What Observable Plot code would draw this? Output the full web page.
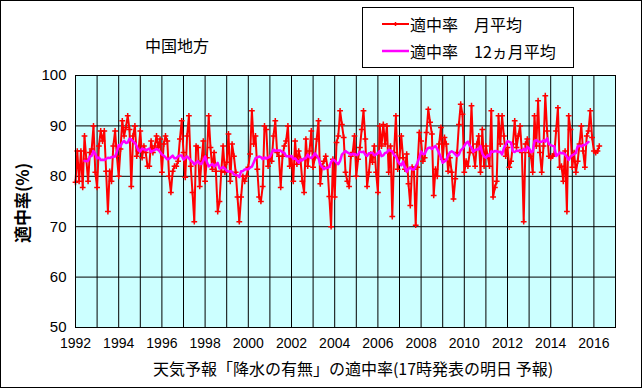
<!DOCTYPE html>
<html><head><meta charset="utf-8">
<script src="https://cdn.jsdelivr.net/npm/d3@7"></script>
<script src="https://cdn.jsdelivr.net/npm/@observablehq/plot@0.6"></script>
<style>
body{margin:0;background:#fff;}
#wrap{position:relative;width:642px;height:388px;overflow:hidden;font-family:"Liberation Sans",Arial,"Noto Sans CJK JP",sans-serif;color:#000;}
#chart{position:absolute;left:0;top:0;}
#border{position:absolute;left:0;top:0;width:642px;height:388px;box-sizing:border-box;border:1px solid #000;pointer-events:none;}
.lbl{position:absolute;white-space:nowrap;line-height:1;font-family:"Noto Sans CJK JP","Liberation Sans",sans-serif;}
#legend{position:absolute;left:362px;top:7px;width:212px;height:61px;box-sizing:border-box;border:1px solid #000;background:#fff;}
</style>
</head><body>
<div id="wrap">
  <div id="chart"></div>
  <div class="lbl" id="title" style="left:145px;top:37px;font-size:16px;">中国地方</div>
  <div class="lbl" id="ytitle" style="left:21px;top:203px;font-size:17px;font-weight:bold;transform:translate(-50%,-50%) rotate(-90deg);">適中率(%)</div>
  <div class="lbl" id="xtitle" style="left:353px;top:368px;font-size:16px;transform:translate(-50%,-50%);">天気予報「降水の有無」の適中率(17時発表の明日 予報)</div>
  <div id="legend">
    <svg width="210" height="59" style="position:absolute;left:0;top:0">
      <line x1="19" x2="46" y1="16" y2="16" stroke="#ff0000" stroke-width="2"/>
      <path d="M30.5,16h4M32.5,14v4" stroke="#ff0000" stroke-width="1.5"/>
      <line x1="19" x2="46" y1="43" y2="43" stroke="#ff00ff" stroke-width="2.5"/>
    </svg>
    <div class="lbl" style="left:47px;top:8px;font-size:16px;">適中率　月平均</div>
    <div class="lbl" style="left:47px;top:35px;font-size:16px;">適中率　12ヵ月平均</div>
  </div>
  <div id="border"></div>
</div>
<script>
const startYear = 1992;
// monthly hit rate (%) , Jan 1992 – Apr 2016, one line per year
const monthlyRate = [
  78.8, 85, 79, 85, 77.8, 88, 83.4, 79, 84.7, 85.4, 90, 80.8,
  77.8, 86, 89, 87, 89, 81, 73, 81, 79, 86, 89, 84,
  80, 85.4, 91, 88, 89.7, 92, 89.3, 78, 88, 90, 84, 85,
  89, 83.7, 86, 84.7, 82, 82, 87, 84.7, 86, 88, 85.7, 87.4,
  80.8, 86.4, 88, 87, 80, 76.8, 81, 82, 82, 83, 87.4, 91,
  84.7, 79.8, 88, 92, 82, 76.8, 71, 86, 85.7, 78, 83, 87,
  79, 83.7, 92, 85.7, 81.4, 84.7, 81, 73, 75, 81, 86, 80.8,
  82.8, 88.4, 79, 86.4, 84, 80.8, 75.9, 71, 75.9, 80, 79, 80,
  81.8, 84.4, 93, 86.4, 88, 81.4, 75.9, 75, 78, 90, 89.3, 82,
  83.7, 83, 88, 91, 84.7, 84, 77.8, 84, 86, 87, 90, 82,
  83.7, 79, 87, 82.4, 85, 83.4, 79, 76.8, 87.4, 82, 85, 89,
  81.8, 83.7, 87.4, 91, 78.5, 82, 83, 84, 81.8, 76, 70, 83.4,
  75.9, 86.7, 88, 93, 90.3, 87.7, 80.8, 79, 78, 84, 84.7, 88,
  80, 83.4, 85.7, 89.3, 93, 87.4, 78, 80.8, 84.4, 82.8, 86, 80.8,
  76.8, 90, 86, 90.3, 86.4, 90, 80.8, 86, 72, 84.7, 92, 81.4,
  83.7, 88, 83.7, 81.4, 84.4, 78.5, 74.2, 81.8, 81.4, 70.3, 81.8, 88.7,
  87, 83, 83.7, 88.7, 93.3, 90.7, 88.4, 76.2, 81.4, 80, 86.4, 89.7,
  83.4, 87.7, 86.4, 81, 83.7, 80.8, 75.5, 79.5, 84.7, 90.3, 94.3, 92.3,
  80.8, 83, 82, 84.7, 94, 84.7, 82, 86.4, 88, 80.8, 89.3, 82,
  86, 84, 82, 93, 75.9, 77.8, 79, 92, 86.4, 92, 88, 84,
  85.7, 81.8, 83, 86.4, 91, 85.7, 88, 90, 84.7, 71, 86.4, 87.4,
  84.7, 84, 80.8, 92, 86, 95, 84.7, 80.8, 86, 96, 89, 84,
  83.7, 84, 84.4, 89, 93.6, 81.8, 82, 79, 85, 73, 92, 89.3,
  81.8, 84.7, 80.8, 83, 86.4, 90, 85, 81.8, 88, 89, 93, 87.7,
  85, 84.7, 85, 86
];
const xTickLabels = [1992, 1994, 1996, 1998, 2000, 2002, 2004, 2006, 2008, 2010, 2012, 2014, 2016];
const gridYears = [1993,1994,1995,1996,1997,1998,1999,2000,2001,2002,2003,2004,2005,2006,2007,2008,2009,2010,2011,2012,2013,2014,2015,2016];
const yTickLabels = [50, 60, 70, 80, 90, 100];
const yGrid = [60, 70, 80, 90];

const data = monthlyRate.map((v, i) => ({t: startYear + i / 12, v}));

const chart = Plot.plot({
  width: 642, height: 388,
  marginLeft: 75, marginRight: 27, marginTop: 75, marginBottom: 61,
  style: {background: "transparent", fontFamily: '"Liberation Sans", Arial, sans-serif', color: "#000", overflow: "visible"},
  x: {domain: [1992, 2017], axis: null},
  y: {domain: [50, 100], axis: null},
  marks: [
    Plot.frame({fill: "#ccffff"}),
    Plot.ruleX(gridYears, {stroke: "#000", strokeWidth: 1}),
    Plot.ruleY(yGrid, {stroke: "#000", strokeWidth: 1}),
    Plot.line(data, {x: "t", y: "v", stroke: "#ff0000", strokeWidth: 2}),
    Plot.dot(data, {x: "t", y: "v", symbol: "plus", r: 2, stroke: "#ff0000", strokeWidth: 1.5}),
    Plot.line(data, Plot.windowY({k: 12, anchor: "middle", strict: true}, {x: "t", y: "v", stroke: "#ff00ff", strokeWidth: 2.5})),
    Plot.frame({stroke: "#000", strokeWidth: 1}),
    Plot.text(yTickLabels, {y: d => d, frameAnchor: "left", dx: -9, textAnchor: "end", fontSize: 15, fill: "#000", text: d => String(d)}),
    Plot.text(xTickLabels, {x: d => d, frameAnchor: "bottom", dy: 20, fontSize: 14, fill: "#000", text: d => String(d)})
  ]
});
document.getElementById("chart").appendChild(chart);
</script>
</body></html>
